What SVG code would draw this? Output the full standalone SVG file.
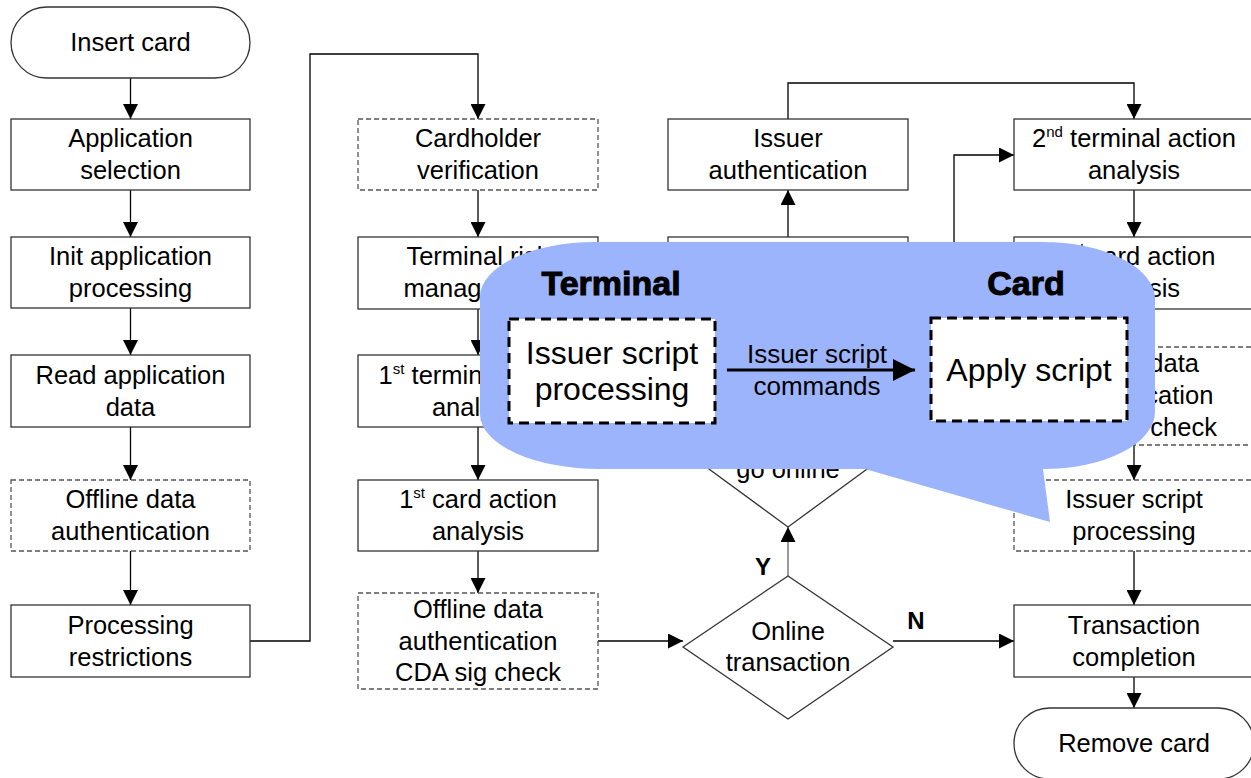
<svg xmlns="http://www.w3.org/2000/svg" width="1251" height="778" viewBox="0 0 1251 778">
<defs>
<style>
.box{fill:#fff;stroke:#333;stroke-width:1.3}
.dbox{fill:#fff;stroke:#555;stroke-width:1.3;stroke-dasharray:5 3}
.t{font-family:"Liberation Sans",Arial,sans-serif;font-size:25.5px;text-anchor:middle;fill:#000}
.lbl{font-family:"Liberation Sans",Arial,sans-serif;font-size:24px;font-weight:bold;text-anchor:middle;fill:#000}
.conn{stroke:#000;stroke-width:1.3;fill:none;marker-end:url(#ah)}
.line{stroke:#000;stroke-width:1.3;fill:none}
.cbox{fill:#fff;stroke:#000;stroke-width:3;stroke-dasharray:10 6}
.ct{font-family:"Liberation Sans",Arial,sans-serif;font-size:32px;text-anchor:middle;fill:#000}
.ch{font-family:"Liberation Sans",Arial,sans-serif;font-size:34px;font-weight:bold;text-anchor:middle;fill:#000;stroke:#000;stroke-width:1}
.cl{font-family:"Liberation Sans",Arial,sans-serif;font-size:26px;text-anchor:middle;fill:#000}
</style>
<marker id="ah" markerUnits="userSpaceOnUse" markerWidth="15" markerHeight="15" refX="15" refY="7.5" orient="auto"><path d="M0,0 L15,7.5 L0,15 Z" fill="#000"/></marker>
<marker id="ahb" markerUnits="userSpaceOnUse" markerWidth="22" markerHeight="22" refX="22" refY="11" orient="auto"><path d="M0,0 L22,11 L0,22 Z" fill="#000"/></marker>
</defs>
<rect width="1251" height="778" fill="#fff"/>

<g id="connectors">
<path class="conn" d="M130.5,78 V119"/>
<path class="conn" d="M130.5,190 V237"/>
<path class="conn" d="M130.5,308 V355"/>
<path class="conn" d="M130.5,427 V480"/>
<path class="conn" d="M130.5,551 V605"/>
<path class="conn" d="M250,641 H310 V54 H478 V119"/>
<path class="conn" d="M478,190 V237"/>
<path class="conn" d="M478,309 V355"/>
<path class="conn" d="M478,427 V480"/>
<path class="conn" d="M478,551 V593"/>
<path class="conn" d="M598,641 H683"/>
<path class="conn" d="M788,576 V527" style="stroke:#666"/>
<path class="conn" d="M788,373 V309"/>
<path class="conn" d="M788,237 V190"/>
<path class="conn" d="M788,119 V83 H1134 V119"/>
<path class="conn" d="M893,450 H954 V155 H1014"/>
<path class="conn" d="M893,641 H1014"/>
<path class="conn" d="M1134,190 V237"/>
<path class="conn" d="M1134,309 V347"/>
<path class="conn" d="M1134,445 V480"/>
<path class="conn" d="M1134,551 V605"/>
<path class="conn" d="M1134,677 V708"/>
<text class="lbl" x="763" y="575">Y</text>
<text class="lbl" x="916" y="629">N</text>
</g>

<g id="n_insert"><rect class="box" x="11" y="7" width="239" height="71" rx="35.5"/><text class="t" x="130.5" y="51">Insert card</text></g>
<g id="n_appsel"><rect class="box" x="11" y="119" width="239" height="71"/><text class="t" x="130.5" y="147">Application</text><text class="t" x="130.5" y="179">selection</text></g>
<g id="n_init"><rect class="box" x="11" y="237" width="239" height="71"/><text class="t" x="130.5" y="265">Init application</text><text class="t" x="130.5" y="297">processing</text></g>
<g id="n_read"><rect class="box" x="11" y="355" width="239" height="72"/><text class="t" x="130.5" y="384">Read application</text><text class="t" x="130.5" y="416">data</text></g>
<g id="n_oda"><rect class="dbox" x="11" y="480" width="239" height="71"/><text class="t" x="130.5" y="508">Offline data</text><text class="t" x="130.5" y="540">authentication</text></g>
<g id="n_proc"><rect class="box" x="11" y="605" width="239" height="72"/><text class="t" x="130.5" y="634">Processing</text><text class="t" x="130.5" y="666">restrictions</text></g>

<g id="n_cv"><rect class="dbox" x="358" y="119" width="240" height="71"/><text class="t" x="478" y="147">Cardholder</text><text class="t" x="478" y="179">verification</text></g>
<g id="n_trm"><rect class="box" x="358" y="237" width="240" height="72"/><text class="t" x="478" y="265">Terminal risk</text><text class="t" x="478" y="297">management</text></g>
<g id="n_1ta"><rect class="box" x="358" y="355" width="240" height="72"/><text class="t" x="478" y="384">1<tspan font-size="15" dy="-10">st</tspan><tspan dy="10"> terminal action</tspan></text><text class="t" x="478" y="416">analysis</text></g>
<g id="n_1ca"><rect class="box" x="358" y="480" width="240" height="71"/><text class="t" x="478" y="508">1<tspan font-size="15" dy="-10">st</tspan><tspan dy="10"> card action</tspan></text><text class="t" x="478" y="540">analysis</text></g>
<g id="n_cda"><rect class="dbox" x="358" y="593" width="240" height="96"/><text class="t" x="478" y="618">Offline data</text><text class="t" x="478" y="650">authentication</text><text class="t" x="478" y="681">CDA sig check</text></g>

<g id="n_ia"><rect class="box" x="668" y="119" width="240" height="71"/><text class="t" x="788" y="147">Issuer</text><text class="t" x="788" y="179">authentication</text></g>
<g id="n_hidden"><rect class="box" x="668" y="237" width="240" height="72"/></g>
<g id="n_goonline"><polygon class="box" points="683,450 788,373 893,450 788,527"/><text class="t" x="788" y="478">go online</text></g>
<g id="n_online"><polygon class="box" points="683,647 788,576 893,647 788,719"/><text class="t" x="788" y="640">Online</text><text class="t" x="788" y="671">transaction</text></g>

<g id="n_2ta"><rect class="box" x="1014" y="119" width="240" height="71"/><text class="t" x="1134" y="147">2<tspan font-size="15" dy="-10">nd</tspan><tspan dy="10"> terminal action</tspan></text><text class="t" x="1134" y="179">analysis</text></g>
<g id="n_2ca"><rect class="box" x="1014" y="237" width="240" height="72"/><text class="t" x="1134" y="265">2<tspan font-size="15" dy="-10">nd</tspan><tspan dy="10"> card action</tspan></text><text class="t" x="1134" y="297">analysis</text></g>
<g id="n_cda2"><rect class="dbox" x="1014" y="347" width="240" height="98"/><text class="t" x="1134" y="372">Offline data</text><text class="t" x="1134" y="404">authentication</text><text class="t" x="1134" y="436">CDA sig check</text></g>
<g id="n_isp"><rect class="dbox" x="1014" y="480" width="240" height="71"/><text class="t" x="1134" y="508">Issuer script</text><text class="t" x="1134" y="540">processing</text></g>
<g id="n_tc"><rect class="box" x="1014" y="605" width="240" height="72"/><text class="t" x="1134" y="634">Transaction</text><text class="t" x="1134" y="666">completion</text></g>
<g id="n_remove"><rect class="box" x="1014" y="708" width="240" height="71" rx="35.5"/><text class="t" x="1134" y="752">Remove card</text></g>

<g id="callout">
<path d="M595,242 H1042 A113,57 0 0 1 1155,299 V412 A112,57 0 0 1 1043,469 L1050,522 L865,469 H600 A120,55 0 0 1 480,414 V297 A115,55 0 0 1 595,242 Z" fill="#9cb4fc"/>
<text class="ch" x="611" y="295">Terminal</text>
<text class="ch" x="1026" y="295">Card</text>
<g id="c_isp"><rect class="cbox" x="509" y="319" width="206" height="104"/><text class="ct" x="612" y="364">Issuer script</text><text class="ct" x="612" y="400">processing</text></g>
<g id="c_apply"><rect class="cbox" x="931" y="318" width="196" height="103"/><text class="ct" x="1029" y="381">Apply script</text></g>
<path d="M727,370 H915" stroke="#000" stroke-width="3" fill="none" marker-end="url(#ahb)"/>
<text class="cl" x="817" y="363">Issuer script</text>
<text class="cl" x="817" y="395">commands</text>
</g>
</svg>
